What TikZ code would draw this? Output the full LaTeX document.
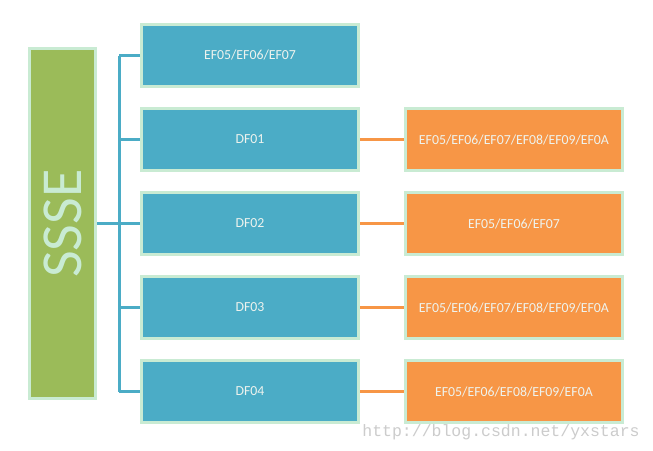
\documentclass[tikz,border=0pt]{standalone}
\usepackage{fontspec}
\setmainfont{Carlito}
\newfontfamily\webmono{Liberation Mono}
\usetikzlibrary{positioning}

\definecolor{ssseGreen}{HTML}{9BBB59}
\definecolor{dfBlue}{HTML}{4BACC6}
\definecolor{efOrange}{HTML}{F79646}
\definecolor{mintEdge}{HTML}{C9EBD3}
\definecolor{paleText}{HTML}{EEF3EE}

\begin{document}
\begin{tikzpicture}[
        x = 1pt, y = -1pt, % pixel-like units
        node distance = 19pt and 44pt, % gaps between boxes
        font = \fontsize{13.8}{15}\selectfont,
        box/.style = {draw = mintEdge, line width = 3pt, text = paleText,
            minimum width = 217pt, minimum height = 62pt},
        dfbox/.style = {box, fill = dfBlue},
        efbox/.style = {box, fill = efOrange},
        bluelink/.style = {draw = dfBlue, line width = 3pt},
        orangelink/.style = {draw = efOrange, line width = 3pt}
        ]

        \useasboundingbox[fill = white] (0,0) rectangle (653,450);

        % root
        \node[draw = mintEdge, line width = 3pt, fill = ssseGreen,
              minimum width = 66pt, minimum height = 350pt,
              text = mintEdge] (ssse) at (62.5,223.5)
              {\rotatebox{90}{\fontsize{58}{58}\selectfont SSSE}};

        % files under the root
        \node[dfbox] (f1) at (250,55.5) {EF05/EF06/EF07};
        \node[dfbox] (d1) [below=of f1] {DF01};
        \node[dfbox] (d2) [below=of d1] {DF02};
        \node[dfbox] (d3) [below=of d2] {DF03};
        \node[dfbox] (d4) [below=of d3] {DF04};

        % files under each DF
        \node[efbox] (e1) [right=of d1] {EF05/EF06/EF07/EF08/EF09/EF0A};
        \node[efbox] (e2) [right=of d2] {EF05/EF06/EF07};
        \node[efbox] (e3) [right=of d3] {EF05/EF06/EF07/EF08/EF09/EF0A};
        \node[efbox] (e4) [right=of d4] {EF05/EF06/EF08/EF09/EF0A};

        % tree lines
        \coordinate (trunk) at (119,223.5);
        \path[bluelink] (ssse.east) -- (trunk);
        \path[bluelink] (f1.west -| trunk) -- (d4.west -| trunk);
        \foreach \n in {f1,d1,d2,d3,d4}
            \path[bluelink] (\n.west -| trunk) -- (\n.west);
        \foreach \a/\b in {d1/e1,d2/e2,d3/e3,d4/e4}
            \path[orangelink] (\a.east) -- (\b.west);

        % watermark
        \node[text = black!20, font = \webmono\fontsize{16.5}{18}\selectfont]
            (mark) at (501,432) {http://blog.csdn.net/yxstars};

      \end{tikzpicture}
\end{document}
